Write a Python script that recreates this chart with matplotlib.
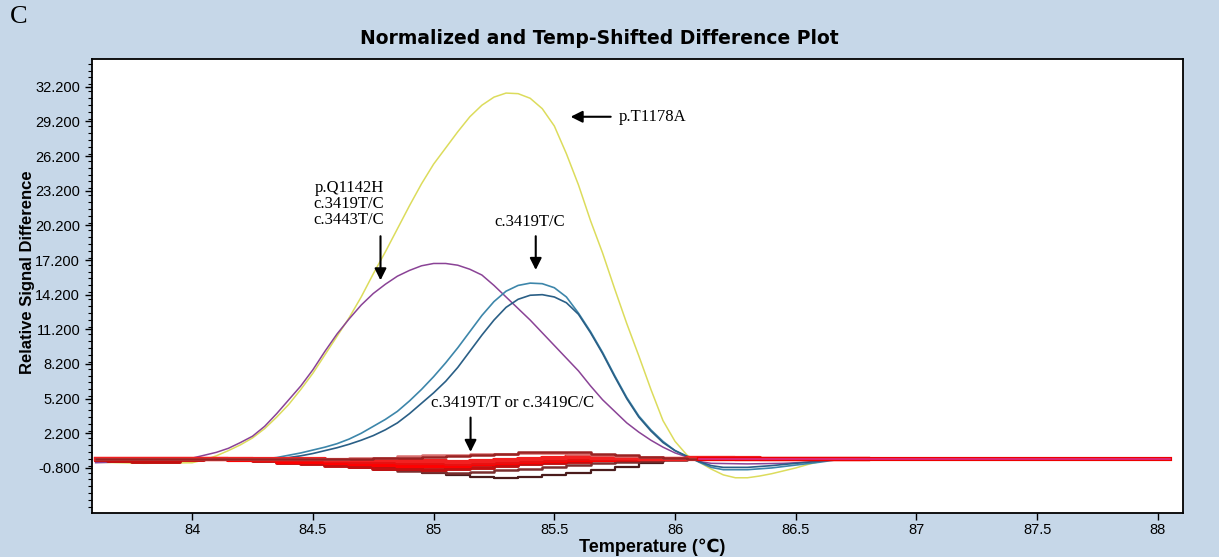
import matplotlib
matplotlib.use('Agg')
import matplotlib.pyplot as plt
from matplotlib.ticker import MultipleLocator, FormatStrFormatter

# temperatures (deg C) for the smooth curves
t_yel = [83.60, 83.80, 84.00, 84.05, 84.10, 84.15, 84.20, 84.25, 84.30, 84.35, 84.40, 84.45, 84.50, 84.55,
         84.60, 84.65, 84.70, 84.75, 84.80, 84.85, 84.90, 84.95, 85.00, 85.05, 85.10, 85.15, 85.20, 85.25,
         85.30, 85.35, 85.40, 85.45, 85.50, 85.55, 85.60, 85.65, 85.70, 85.75, 85.80, 85.85, 85.90, 85.95,
         86.00, 86.05, 86.10, 86.15, 86.20, 86.25, 86.30, 86.35, 86.40, 86.45, 86.50, 86.55, 86.60, 86.65,
         86.70, 88.05]
y_yel = [-0.30, -0.40, -0.35, -0.10, 0.25, 0.70, 1.20, 1.80, 2.60, 3.60, 4.70, 6.00, 7.40, 9.00,
         10.60, 12.20, 14.00, 16.00, 17.90, 19.90, 21.90, 23.80, 25.50, 26.90, 28.30, 29.60, 30.60, 31.30,
         31.65, 31.60, 31.20, 30.30, 28.80, 26.40, 23.70, 20.60, 17.80, 14.70, 11.70, 8.90, 6.00, 3.30,
         1.50, 0.30, -0.30, -0.90, -1.40, -1.65, -1.65, -1.50, -1.30, -1.05, -0.80, -0.50, -0.25, -0.05,
         0.00, 0.00]

t_pur = [83.60, 83.75, 83.85, 83.95, 84.00, 84.05, 84.10, 84.15, 84.20, 84.25, 84.30, 84.35, 84.40, 84.45,
         84.50, 84.55, 84.60, 84.65, 84.70, 84.75, 84.80, 84.85, 84.90, 84.95, 85.00, 85.05, 85.10, 85.15,
         85.20, 85.25, 85.30, 85.35, 85.40, 85.45, 85.50, 85.55, 85.60, 85.65, 85.70, 85.75, 85.80, 85.85,
         85.90, 85.95, 86.00, 86.05, 86.10, 86.15, 86.30, 86.45, 86.55, 86.65, 88.05]
y_pur = [-0.35, -0.25, -0.05, 0.00, 0.05, 0.30, 0.55, 0.90, 1.40, 1.95, 2.80, 3.90, 5.10, 6.30,
         7.70, 9.30, 10.80, 12.10, 13.30, 14.30, 15.10, 15.80, 16.30, 16.70, 16.90, 16.90, 16.75, 16.40,
         15.90, 15.00, 14.00, 13.00, 12.00, 10.90, 9.80, 8.70, 7.60, 6.30, 5.10, 4.10, 3.10, 2.30,
         1.60, 1.00, 0.50, 0.15, -0.25, -0.40, -0.45, -0.40, -0.30, 0.00, 0.00]

t_blue = [83.60, 84.00, 84.30, 84.35, 84.40, 84.45, 84.50, 84.55, 84.60, 84.65, 84.70, 84.75, 84.80, 84.85,
          84.90, 84.95, 85.00, 85.05, 85.10, 85.15, 85.20, 85.25, 85.30, 85.35, 85.40, 85.45, 85.50, 85.55,
          85.60, 85.65, 85.70, 85.75, 85.80, 85.85, 85.90, 85.95, 86.00, 86.05, 86.10, 86.15, 86.20, 86.30,
          86.40, 86.50, 86.60, 86.70, 88.05]
y_blue1 = [-0.20, 0.00, 0.00, 0.10, 0.30, 0.50, 0.75, 1.00, 1.30, 1.70, 2.20, 2.80, 3.40, 4.10,
           5.00, 6.00, 7.10, 8.30, 9.60, 11.00, 12.40, 13.60, 14.50, 15.00, 15.20, 15.15, 14.80, 14.00,
           12.60, 11.00, 9.20, 7.20, 5.30, 3.70, 2.50, 1.50, 0.70, 0.20, -0.30, -0.75, -0.95, -0.95,
           -0.80, -0.55, -0.30, 0.00, 0.00]
y_blue2 = [-0.10, 0.00, 0.00, 0.00, 0.10, 0.25, 0.45, 0.70, 0.95, 1.25, 1.60, 2.00, 2.50, 3.10,
           3.90, 4.80, 5.70, 6.70, 7.90, 9.30, 10.70, 12.00, 13.10, 13.80, 14.15, 14.20, 14.00, 13.50,
           12.50, 10.90, 9.10, 7.10, 5.20, 3.60, 2.40, 1.40, 0.70, 0.20, -0.25, -0.60, -0.75, -0.75,
           -0.60, -0.40, -0.20, 0.00, 0.00]

# the c.3419T/T or c.3419C/C group (step-like traces)
t_red = [83.6, 83.7, 83.8, 83.9, 84.0, 84.1, 84.2, 84.3, 84.4, 84.5, 84.6, 84.7, 84.8, 84.9, 85.0, 85.1, 85.2,
         85.3, 85.4, 85.5, 85.6, 85.7, 85.8, 85.9, 86.0, 86.1, 86.2, 86.3, 86.4, 86.5, 86.6, 86.7, 86.8]
red_runs = [
    ('#4a1c1c', 1.6, [0, 0, 0, 0, 0, 0, 0, 0, -0.05, -0.15, -0.3, -0.5, -0.7, -0.95, -1.2, -1.45, -1.6,
                      -1.65, -1.6, -1.45, -1.25, -1.0, -0.7, -0.4, -0.1, 0, 0, 0, 0, 0, 0, 0, 0]),
    ('#7a2e2e', 1.8, [0, 0, 0, 0, 0, 0, 0, -0.05, -0.15, -0.3, -0.5, -0.7, -0.9, -1.05, -1.15, -1.2, -1.15,
                      -1.0, -0.85, -0.7, -0.55, -0.4, -0.3, -0.2, -0.1, 0, 0, 0, 0, 0, 0, 0, 0]),
    ('#c01010', 2.8, [-0.1, -0.2, -0.3, -0.3, -0.1, 0, -0.1, -0.2, -0.35, -0.5, -0.6, -0.75, -0.85, -0.9, -0.95,
                      -0.9, -0.8, -0.65, -0.5, -0.35, -0.25, -0.15, -0.1, -0.05, 0, 0, 0, 0, 0, 0, 0, 0, 0]),
    ('#ff0000', 3.0, [0, 0, 0, 0, 0, 0, -0.1, -0.15, -0.25, -0.3, -0.4, -0.45, -0.55, -0.6, -0.65, -0.6, -0.5,
                      -0.4, -0.3, -0.2, -0.1, -0.1, -0.05, 0, 0, 0, 0, 0, 0, 0, 0, 0, 0]),
    ('#e81010', 3.0, [0, 0, 0, 0, 0, 0, 0, -0.1, -0.1, -0.15, -0.2, -0.25, -0.3, -0.35, -0.4, -0.45, -0.4,
                      -0.3, -0.2, -0.1, -0.05, 0, 0, 0, 0, 0.1, 0.05, 0, 0, 0, 0, 0, 0]),
    ('#f22020', 3.0, [0, 0, 0, 0, 0, 0, 0, 0, 0, -0.05, -0.1, -0.1, -0.15, -0.2, -0.2, -0.25, -0.2,
                      -0.1, 0, 0.1, 0.15, 0.1, 0.05, 0, 0, 0.05, 0.05, 0.05, 0, 0, 0, 0, 0]),
    ('#d97070', 1.8, [0, 0, 0, 0, 0, 0, 0, 0, 0, 0, 0, 0.05, 0.1, 0.2, 0.3, 0.35, 0.4,
                      0.45, 0.5, 0.5, 0.45, 0.35, 0.25, 0.15, 0.05, 0, 0, 0, 0, 0, 0, 0, 0]),
    ('#9a2222', 1.8, [0, 0, 0, 0, 0, 0, 0, 0, 0, 0, 0, 0, 0.05, 0.1, 0.15, 0.2, 0.3,
                      0.45, 0.55, 0.6, 0.55, 0.45, 0.3, 0.15, 0.05, 0, 0, 0, 0, 0, 0, 0, 0]),
]
t_tail = [86.1, 88.05]
y_tail = [0.0, 0.0]

plt.rcParams['font.family'] = ['Liberation Sans', 'DejaVu Sans']

fig = plt.figure(figsize=(12.19, 5.57), dpi=100)
fig.patch.set_facecolor('#c6d7e8')
ax = fig.add_axes([92/1219, 1-513/557, (1183-92)/1219, (513-59)/557])
ax.set_facecolor('white')

ax.plot(t_yel, y_yel, color='#dcdc5c', lw=1.1)
ax.plot(t_pur, y_pur, color='#8a4396', lw=1.1)
ax.plot(t_blue, y_blue1, color='#3d86aa', lw=1.2)
ax.plot(t_blue, y_blue2, color='#2a5f86', lw=1.2)
for c, w, v in red_runs:
    ax.plot(t_red, v, color=c, lw=w, drawstyle='steps-mid')
ax.plot(t_tail, y_tail, color='#ee0000', lw=3)
ax.plot(t_tail, y_tail, color='#d8308a', lw=1.2)

ax.set_xlim(83.585, 88.104)
ax.set_ylim(-4.7, 34.6)
ax.xaxis.set_major_locator(MultipleLocator(0.5))
ax.xaxis.set_major_formatter(FormatStrFormatter('%g'))
ax.set_yticks([-0.8 + 3*i for i in range(12)])
ax.yaxis.set_major_formatter(FormatStrFormatter('%.3f'))
ax.yaxis.set_minor_locator(MultipleLocator(0.6))
ax.tick_params(axis='both', direction='out', length=5, width=1, labelsize=10.5, colors='black')
ax.tick_params(axis='x', pad=2)
ax.tick_params(axis='y', which='minor', length=3, width=0.8)
for s in ax.spines.values():
    s.set_linewidth(1.3)

fig.text(599/1219, 1-38/557, 'Normalized and Temp-Shifted Difference Plot', ha='center', va='center',
         fontsize=13.5, fontweight='bold', family='DejaVu Sans')
fig.text(10/1219, 1-17/557, 'C', ha='left', va='center', fontsize=19, family='Liberation Serif')
fig.text(28/1219, 1-272/557, 'Relative Signal Difference', rotation=90, ha='center', va='center',
         fontsize=12, fontweight='bold')
fig.text(652/1219, 1-547/557, 'Temperature (℃)', ha='center', va='center', fontsize=13, fontweight='bold')

# annotations
af = dict(arrowstyle='-|>,head_width=0.35,head_length=0.7', color='black', lw=1.5)
serif = 'Liberation Serif'
ax.annotate('', xy=(85.556, 29.6), xytext=(85.745, 29.6), arrowprops=af)
ax.text(85.765, 29.6, 'p.T1178A', ha='left', va='center', fontsize=12, family=serif)
ax.annotate('', xy=(84.78, 15.2), xytext=(84.78, 19.5), arrowprops=af)
ax.text(84.65, 22.06, 'p.Q1142H\nc.3419T/C\nc.3443T/C', ha='center', va='center', fontsize=12,
        family=serif, linespacing=1.0, multialignment='center')
ax.annotate('', xy=(85.423, 16.1), xytext=(85.423, 19.5), arrowprops=af)
ax.text(85.40, 20.5, 'c.3419T/C', ha='center', va='center', fontsize=12, family=serif)
ax.annotate('', xy=(85.153, 0.35), xytext=(85.153, 3.8), arrowprops=af)
ax.text(85.328, 4.85, 'c.3419T/T or c.3419C/C', ha='center', va='center', fontsize=12, family=serif)

fig.savefig('out.png', dpi=100, facecolor=fig.get_facecolor())
